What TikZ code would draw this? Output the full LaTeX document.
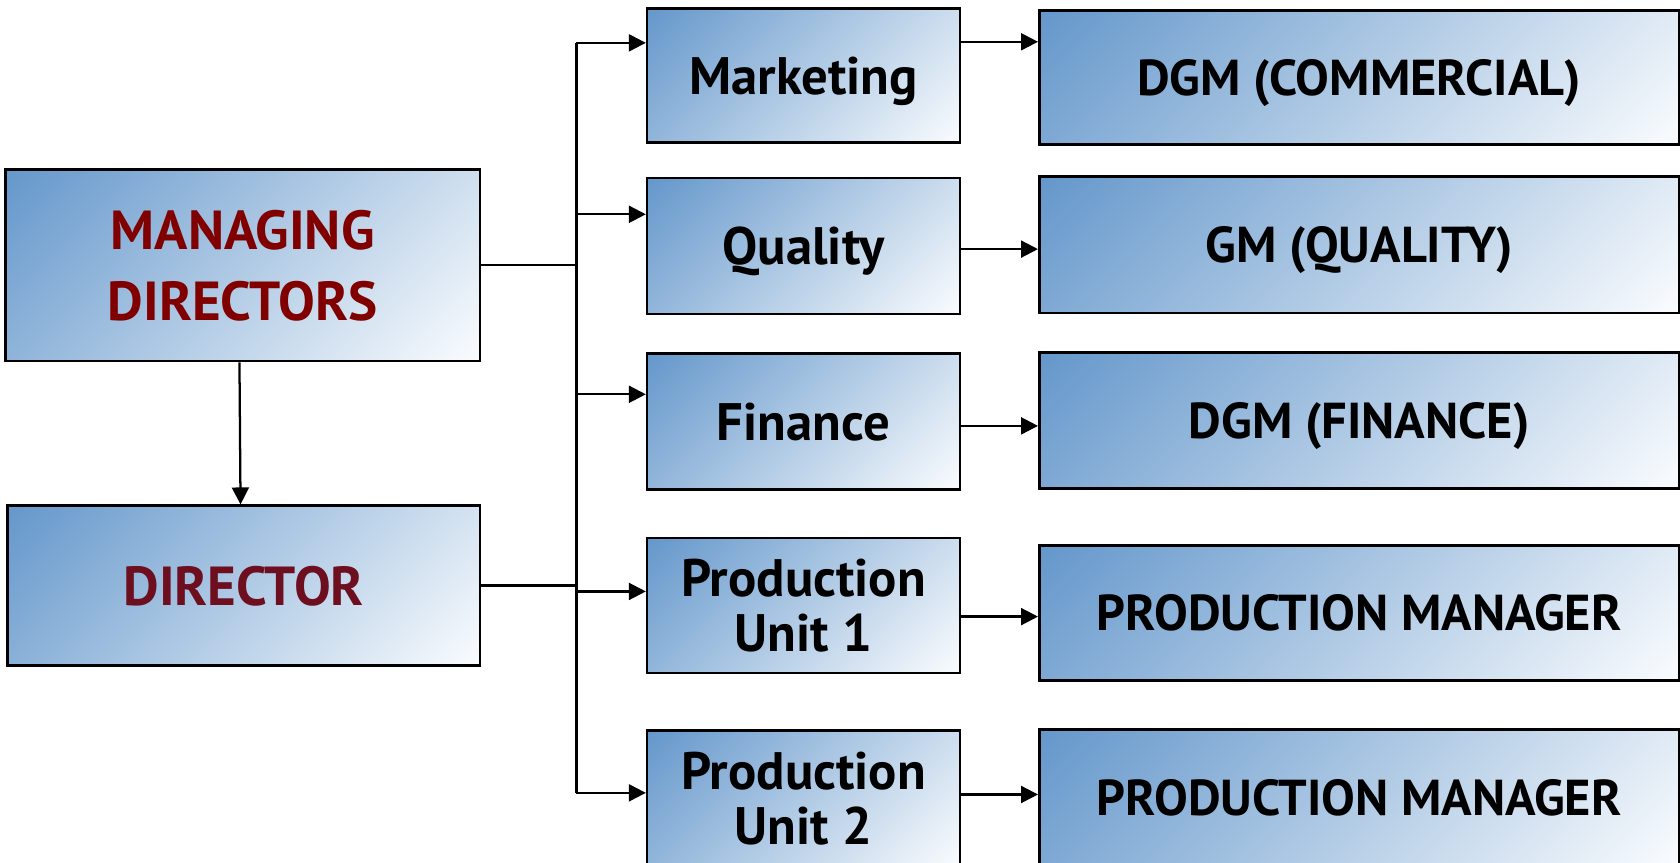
\documentclass[tikz,border=0pt]{standalone}
\usepackage{fontspec}
\setmainfont{PT Sans}
\usepackage{tikz}
\usetikzlibrary{arrows.meta}
\definecolor{boxdark}{HTML}{6497CB}
\definecolor{boxlight}{HTML}{FAFCFE}
\definecolor{mdred}{HTML}{800000}
\definecolor{dirred}{HTML}{6D0F1E}
\pgfdeclareverticalshading{boxshade}{100bp}{color(0bp)=(boxlight); color(14.6bp)=(boxlight); color(85.4bp)=(boxdark); color(100bp)=(boxdark)}
\tikzset{orgbox/.style={draw, line width=0.7pt, shading=boxshade, shading angle=45, align=center, inner sep=0pt, text depth=0pt, font=\fontsize{14}{14.5}\selectfont\bfseries}}
\tikzset{headbox/.style={orgbox, minimum width=5.97cm, font=\fontsize{13.4}{14}\selectfont\bfseries}}
\tikzset{link/.style={line width=0.6pt}}
\tikzset{arr/.style={line width=0.6pt, -{Triangle[length=4.5pt, width=4.5pt]}}}

\begin{document}
\begin{tikzpicture}
    \useasboundingbox (0,0) rectangle (15.68,-8.05);
    \clip (0,0) rectangle (15.68,-8.05);

    \node[orgbox, minimum width=4.43cm, minimum height=1.79cm, text=mdred, font=\fontsize{14.6}{19}\selectfont\bfseries] (MD) at (2.265,-2.475) {MANAGING\\DIRECTORS};
    \node[orgbox, minimum width=4.41cm, minimum height=1.49cm, text=dirred, font=\fontsize{14.6}{19}\selectfont\bfseries] (DIR) at (2.275,-5.465) {DIRECTOR};

    \node[orgbox, minimum width=2.92cm, minimum height=1.25cm] (MKT) at (7.50,-0.705) {Marketing};
    \node[orgbox, minimum width=2.92cm, minimum height=1.27cm] (QUA) at (7.50,-2.295) {Quality};
    \node[orgbox, minimum width=2.92cm, minimum height=1.27cm] (FIN) at (7.50,-3.935) {Finance};
    \node[orgbox, minimum width=2.92cm, minimum height=1.26cm] (PU1) at (7.50,-5.65) {Production\\Unit 1};
    \node[orgbox, minimum width=2.92cm, minimum height=1.26cm] (PU2) at (7.50,-7.45) {Production\\Unit 2};

    \node[headbox, minimum height=1.25cm] (DGMC) at (12.685,-0.725) {DGM (COMMERCIAL)};
    \node[headbox, minimum height=1.27cm] (GMQ) at (12.685,-2.285) {GM (QUALITY)};
    \node[headbox, minimum height=1.27cm] (DGMF) at (12.685,-3.925) {DGM (FINANCE)};
    \node[headbox, minimum height=1.26cm] (PM1) at (12.685,-5.72) {PRODUCTION MANAGER};
    \node[headbox, minimum height=1.26cm] (PM2) at (12.685,-7.44) {PRODUCTION MANAGER};

    % bus between the directors and the departments
    \coordinate (b1) at (5.38,-0.40);
    \coordinate (b2) at (5.38,-2.00);
    \coordinate (b3) at (5.38,-3.68);
    \coordinate (b4) at (5.38,-5.52);
    \coordinate (b5) at (5.38,-7.40);

    \draw[arr] ([xshift=-0.03cm]MD.south) -- ([xshift=-0.03cm]DIR.north);
    \draw[link] (MD.east) -- (MD.east -| b1);
    \draw[link] (DIR.east) -- (DIR.east -| b1);
    \draw[link] (b1) -- (b5);

    \draw[arr] (b1) -- (b1 -| MKT.west);
    \draw[arr] (b2) -- (b2 -| QUA.west);
    \draw[arr] (b3) -- (b3 -| FIN.west);
    \draw[arr] (b4) -- (b4 -| PU1.west);
    \draw[arr] (b5) -- (b5 -| PU2.west);

    \foreach \dep/\head/\y in {MKT/DGMC/0.39, QUA/GMQ/2.325, FIN/DGMF/3.975, PU1/PM1/5.755, PU2/PM2/7.415}
        \draw[arr] (\dep.east |- 0,-\y) -- (\head.west |- 0,-\y);
\end{tikzpicture}
\end{document}
